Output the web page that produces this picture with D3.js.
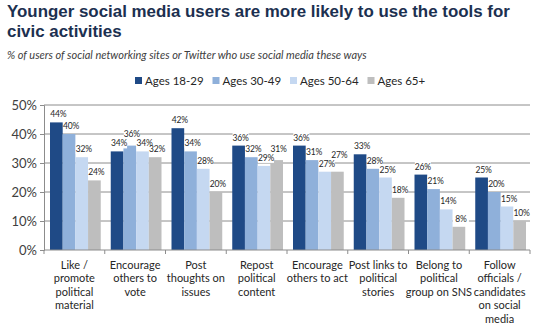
<!DOCTYPE html>
<html>
<head>
<meta charset="utf-8">
<script src="https://cdn.jsdelivr.net/npm/d3@7"></script>
<style>
  body { margin: 0; background: #fff; }
  svg { display: block; }
</style>
</head>
<body>
<script>
// chart data
var categories = [
  ["Like /", "promote", "political", "material"],
  ["Encourage", "others to", "vote"],
  ["Post", "thoughts on", "issues"],
  ["Repost", "political", "content"],
  ["Encourage", "others to act"],
  ["Post links to", "political", "stories"],
  ["Belong to", "political", "group on SNS"],
  ["Follow", "officials /", "candidates", "on social", "media"]
];
var seriesNames = ["Ages 18-29", "Ages 30-49", "Ages 50-64", "Ages 65+"];
var ages18 = [44, 34, 42, 36, 36, 33, 26, 25];
var ages30 = [40, 36, 34, 32, 31, 28, 21, 20];
var ages50 = [32, 34, 28, 29, 27, 25, 14, 15];
var ages65 = [24, 32, 20, 31, 27, 18, 8, 10];
var yTicks = [0, 10, 20, 30, 40, 50];
var colors = ["#1f4a86", "#8fb0da", "#c5d8f1", "#bebebe"];

var series = [ages18, ages30, ages50, ages65];
var bodyFont = "Lato, Open Sans, Liberation Sans, sans-serif";

function draw() {
  var W = 540, H = 330;
  var svg = d3.select("body").append("svg").attr("width", W).attr("height", H);

  //title
  var title = svg.append("text")
    .attr("font-family", "Liberation Sans, Arial, sans-serif")
    .attr("font-size", 16.9).attr("font-weight", "bold")
    .attr("fill", "#1c3050");
  title.append("tspan").attr("x", 7).attr("y", 17)
    .text("Younger social media users are more likely to use the tools for");
  title.append("tspan").attr("x", 7).attr("y", 37).text("civic activities");

  svg.append("text")
    .attr("x", 7).attr("y", 59)
    .attr("font-family", bodyFont)
    .attr("font-size", 11).attr("font-style", "italic")
    .attr("fill", "#404040")
    .text("% of users of social networking sites or Twitter who use social media these ways");

  // legend
  var legend = svg.append("g").selectAll("g")
    .data(seriesNames)
    .enter().append("g")
    .attr("transform", function(d, i) { return "translate(" + (135 + i * 77.5) + ",0)"; });
  legend.append("rect")
    .attr("x", 0).attr("y", 77).attr("width", 7).attr("height", 7)
    .attr("fill", function(d, i) { return colors[i]; });
  legend.append("text")
    .attr("x", 10).attr("y", 85)
    .attr("font-family", bodyFont)
    .attr("font-size", 11.5).attr("fill", "#262626")
    .text(function(d) { return d; });

  // scales
  var left = 44, right = 530, plotTop = 105, bottom = 250;
  var x = d3.scaleBand().domain(d3.range(categories.length)).range([left, right]);
  var x1 = d3.scaleBand().domain(d3.range(series.length)).range([6, x.bandwidth() - 4]);
  var y = d3.scaleLinear().domain([0, 50]).range([bottom, plotTop]);

  // gridlines
  svg.append("g").selectAll("line")
    .data(yTicks.filter(function(t) { return t > 0; }))
    .enter().append("line")
    .attr("x1", left).attr("x2", right)
    .attr("y1", function(d) { return y(d); }).attr("y2", function(d) { return y(d); })
    .attr("stroke", "#8c8c8c").attr("stroke-width", 1);

  // y axis
  var yAxis = svg.append("g")
    .attr("transform", "translate(" + left + ",0)")
    .call(d3.axisLeft(y).tickValues(yTicks).tickFormat(function(d) { return d + "%"; }).tickSize(4).tickPadding(3));
  yAxis.select(".domain").attr("stroke", "#8c8c8c");
  yAxis.selectAll(".tick line").attr("stroke", "#8c8c8c");
  yAxis.selectAll("text")
    .attr("font-family", bodyFont)
    .attr("font-size", 13).attr("fill", "#404040");

  // flat list of bar values, label y bumped up if it runs into the previous one
  var cells = [];
  categories.forEach(function(c, i) {
    var prev = null;
    series.forEach(function(s, j) {
      var cell = { c: i, s: j, v: s[i], ly: y(s[i]) - 5 };
      if (prev && cell.v >= prev.v - 0.5 && Math.abs(cell.ly - prev.ly) < 9) {
        cell.ly = prev.ly - 9;
      }
      cells.push(cell);
      prev = cell;
    });
  });
  var bx = function(d) { return x(d.c) + x1(d.s); };

  svg.append("g").selectAll("rect")
    .data(cells)
    .enter().append("rect")
    .attr("x", bx)
    .attr("width", x1.bandwidth())
    .attr("y", function(d) { return y(d.v); })
    .attr("height", function(d) { return y(0) - y(d.v); })
    .attr("fill", function(d) { return colors[d.s]; });

  // white label backing, under all labels
  svg.append("g").selectAll("rect")
    .data(cells)
    .enter().append("rect")
    .attr("x", function(d) { return bx(d) + x1.bandwidth() / 2 - 6; })
    .attr("y", function(d) { return d.ly - 8; })
    .attr("width", 16).attr("height", 10)
    .attr("fill", "#fff");

  svg.append("g").selectAll("text")
    .data(cells)
    .enter().append("text")
    .attr("x", function(d) { return bx(d) + x1.bandwidth() / 2 + 2; })
    .attr("y", function(d) { return d.ly; })
    .attr("text-anchor", "middle")
    .attr("font-family", bodyFont)
    .attr("font-size", 8.5).attr("letter-spacing", -0.2).attr("fill", "#262626")
    .text(function(d) { return d.v + "%"; });

  // x axis
  var xAxis = svg.append("g").attr("transform", "translate(0," + bottom + ")");
  xAxis.append("line").attr("x1", left).attr("x2", right).attr("stroke", "#8c8c8c");
  xAxis.selectAll(".sep")
    .data(d3.range(categories.length + 1))
    .enter().append("line")
    .attr("x1", function(d) { return left + d * x.bandwidth(); })
    .attr("x2", function(d) { return left + d * x.bandwidth(); })
    .attr("y1", 0).attr("y2", 4)
    .attr("stroke", "#8c8c8c");

  var catText = xAxis.selectAll(".cat")
    .data(categories)
    .enter().append("text")
    .attr("text-anchor", "middle")
    .attr("font-family", bodyFont)
    .attr("font-size", 11).attr("fill", "#262626");
  catText.selectAll("tspan")
    .data(function(d, i) { return d.map(function(l) { return { l: l, i: i }; }); })
    .enter().append("tspan")
    .attr("x", function(d) { return x(d.i) + x.bandwidth() / 2; })
    .attr("y", function(d, k) { return 19 + k * 13.4; })
    .text(function(d) { return d.l; });
}

draw();
</script>
</body>
</html>
